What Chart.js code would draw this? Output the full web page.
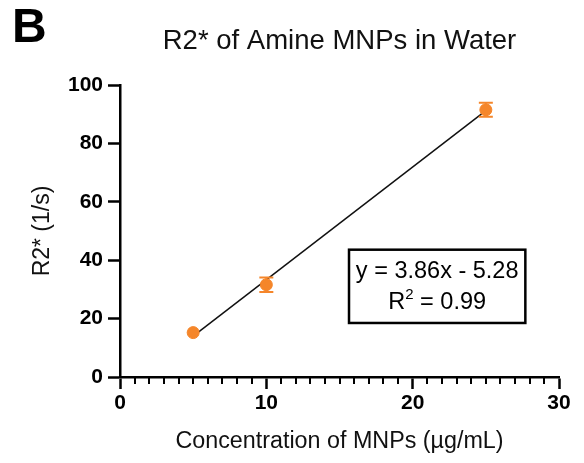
<!DOCTYPE html>
<html><head><meta charset="utf-8">
<script src="https://cdn.jsdelivr.net/npm/chart.js@4"></script>
<style>html,body{margin:0;padding:0;background:#fff}#wrap{width:584px;height:463px}</style>
</head><body><div id="wrap"><canvas id="c" width="584" height="463"></canvas></div>
<script>
// ---- data ----
const concentrations = [5, 10, 25];
const r2Values = [15.2, 31.6, 91.5];
const r2Errors = [0, 2.5, 2.4];
const fitX = [5, 25];
const fitY = [14.02, 91.22];
const xTickValues = [0, 10, 20, 30];
const yTickValues = [0, 20, 40, 60, 80, 100];
const panelLabel = 'B';
const chartTitle = 'R2* of Amine MNPs in Water';
const xTitle = 'Concentration of MNPs (\u00b5g/mL)';
const yTitle = 'R2* (1/s)';
const eqLine1 = 'y = 3.86x - 5.28';
const eqLine2Base = 'R';
const eqLine2Sup = '2';
const eqLine2Rest = ' = 0.99';

const FONT = '"Liberation Sans", Arial, Helvetica, sans-serif';
const ORANGE = '#F5862A';

const decor = {
  id: 'decor',
  afterDraw(chart) {
    const {ctx, chartArea: ca, scales: {x, y}} = chart;
    ctx.save();
    // minor x ticks
    ctx.strokeStyle = '#000';
    ctx.lineWidth = 2;
    for (let v = x.min; v <= x.max; v += 1) {
      if (v % 10 === 0) continue;
      const px = Math.round(x.getPixelForValue(v));
      ctx.beginPath();
      ctx.moveTo(px, ca.bottom);
      ctx.lineTo(px, ca.bottom + 7);
      ctx.stroke();
    }
    // error bars
    ctx.strokeStyle = ORANGE;
    ctx.lineWidth = 2;
    concentrations.forEach((cx, i) => {
      const e = r2Errors[i];
      if (!e) return;
      const px = x.getPixelForValue(cx);
      const top = y.getPixelForValue(r2Values[i] + e);
      const bot = y.getPixelForValue(r2Values[i] - e);
      ctx.beginPath();
      ctx.moveTo(px, top); ctx.lineTo(px, bot);
      ctx.moveTo(px - 7, top); ctx.lineTo(px + 7, top);
      ctx.moveTo(px - 7, bot); ctx.lineTo(px + 7, bot);
      ctx.stroke();
    });
    // panel label
    ctx.fillStyle = '#000';
    ctx.font = 'bold 48px ' + FONT;
    ctx.textAlign = 'left';
    ctx.textBaseline = 'alphabetic';
    ctx.fillText(panelLabel, 12, 42);
    // equation box
    const bx1 = x.getPixelForValue(15.65), bx2 = x.getPixelForValue(27.7);
    const by1 = y.getPixelForValue(43.6), by2 = y.getPixelForValue(18.5);
    ctx.strokeStyle = '#000';
    ctx.lineWidth = 2.5;
    ctx.strokeRect(bx1, by1, bx2 - bx1, by2 - by1);
    const cx = (bx1 + bx2) / 2;
    ctx.font = '23.5px ' + FONT;
    ctx.textAlign = 'center';
    ctx.textBaseline = 'middle';
    ctx.fillText(eqLine1, cx, by1 + 22);
    // R^2 line
    ctx.textAlign = 'left';
    ctx.font = '23.5px ' + FONT;
    const wR = ctx.measureText(eqLine2Base).width;
    const wRest = ctx.measureText(eqLine2Rest).width;
    ctx.font = '15px ' + FONT;
    const wS = ctx.measureText(eqLine2Sup).width;
    const total = wR + wS + wRest;
    let sx = cx - total / 2;
    const ly = by1 + 53;
    ctx.font = '23.5px ' + FONT;
    ctx.fillText(eqLine2Base, sx, ly);
    sx += wR;
    ctx.font = '15px ' + FONT;
    ctx.fillText(eqLine2Sup, sx, ly - 8);
    sx += wS;
    ctx.font = '23.5px ' + FONT;
    ctx.fillText(eqLine2Rest, sx, ly);
    ctx.restore();
  }
};

new Chart(document.getElementById('c'), {
  data: {
    datasets: [
      {
        type: 'scatter',
        data: concentrations.map((c, i) => ({x: c, y: r2Values[i]})),
        backgroundColor: ORANGE,
        borderColor: ORANGE,
        pointRadius: 6,
        pointHoverRadius: 6,
        order: 0
      },
      {
        type: 'line',
        data: fitX.map((c, i) => ({x: c, y: fitY[i]})),
        borderColor: '#111',
        borderWidth: 1.5,
        pointRadius: 0,
        fill: false,
        order: 1
      }
    ]
  },
  options: {
    responsive: false,
    animation: false,
    devicePixelRatio: 1,
    layout: {padding: {top: 0, right: 25, bottom: 0, left: 0}},
    plugins: {
      legend: {display: false},
      tooltip: {enabled: false},
      title: {
        display: true,
        text: chartTitle,
        fullSize: false,
        color: '#111',
        font: {family: FONT, size: 27.5, weight: 'normal', lineHeight: 1.2},
        padding: {top: 25, bottom: 27}
      }
    },
    scales: {
      x: {
        type: 'linear',
        min: 0, max: 30,
        afterBuildTicks: s => { s.ticks = xTickValues.map(v => ({value: v})); },
        afterFit: s => { s.height = 86; },
        grid: {drawOnChartArea: false, tickLength: 12, tickWidth: 2.5, tickColor: '#000'},
        border: {display: true, color: '#000', width: 2.5},
        ticks: {color: '#000', padding: 2, maxRotation: 0, font: {family: FONT, size: 21, weight: 'bold'}},
        title: {display: true, text: xTitle, color: '#111', font: {family: FONT, size: 23.3, weight: 'normal', lineHeight: 1.2}, padding: {top: 0, bottom: 7}}
      },
      y: {
        type: 'linear',
        min: 0, max: 100,
        afterBuildTicks: s => { s.ticks = yTickValues.map(v => ({value: v})); },
        afterFit: s => { s.width = 120; },
        grid: {drawOnChartArea: false, tickLength: 12, tickWidth: 2.5, tickColor: '#000'},
        border: {display: true, color: '#000', width: 2.5},
        ticks: {color: '#000', padding: 5, font: {family: FONT, size: 21, weight: 'bold'}},
        title: {display: true, text: yTitle, color: '#111', font: {family: FONT, size: 23, weight: 'normal', lineHeight: 1.2}, padding: {top: 29, bottom: 0}}
      }
    }
  },
  plugins: [decor]
});
</script>
</body></html>
